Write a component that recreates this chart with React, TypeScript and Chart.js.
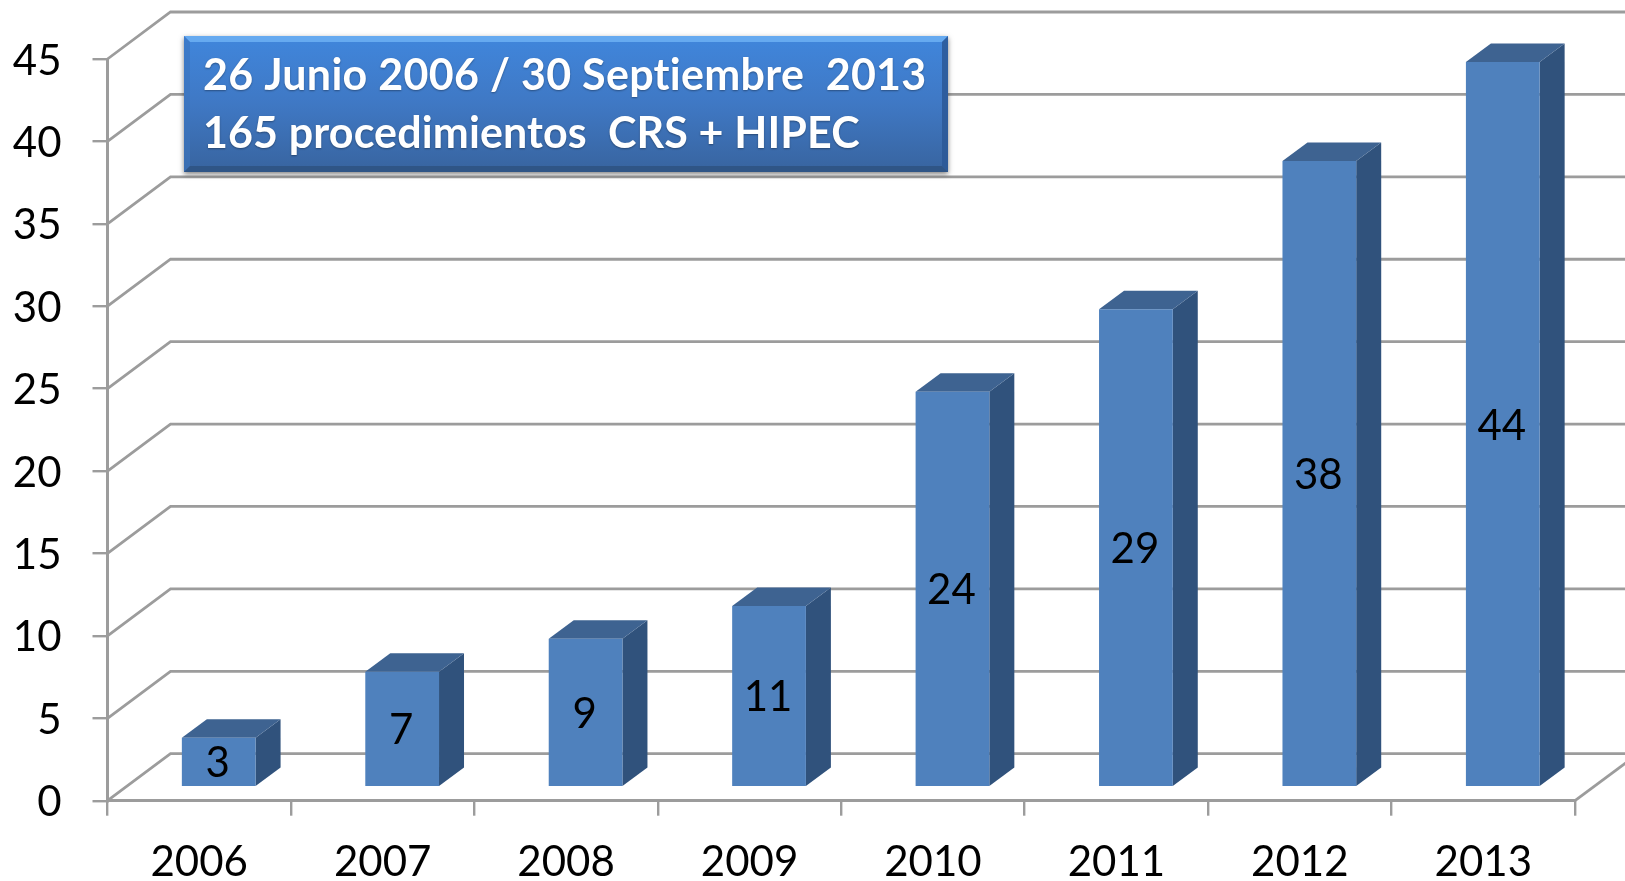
import React, { useEffect, useRef } from "react";
import { Chart, registerables } from "chart.js";

Chart.register(...registerables);

const categories = ["2006", "2007", "2008", "2009", "2010", "2011", "2012", "2013"];
const procedures = [3, 7, 9, 11, 24, 29, 38, 44];
const noteLines = ["26 Junio 2006 / 30 Septiembre  2013", "165 procedimientos  CRS + HIPEC"];

const FONT = "Lato, Carlito, sans-serif";
const GRID = "#9c9c9c";
const FRONT = "#4f81bd";
const TOP = "#3e6391";
const SIDE = "#30527c";
const WALL_DX = 63;
const WALL_DY = 47;
const BAR_DX = 19.5;
const BAR_DY = -13.5;
const DEPTH_X = 25;
const DEPTH_Y = 18.5;

const cube3d = {
  id: "cube3d",
  beforeDatasetsDraw(chart: any) {
    const { ctx, scales } = chart;
    const y = scales.y;
    const x = scales.x;
    ctx.save();
    ctx.strokeStyle = GRID;
    ctx.lineWidth = 2.8;
    y.ticks.forEach((t: any) => {
      const py = y.getPixelForValue(t.value);
      ctx.beginPath();
      ctx.moveTo(x.left, py);
      ctx.lineTo(x.left + WALL_DX, py - WALL_DY);
      ctx.lineTo(1625, py - WALL_DY);
      ctx.stroke();
    });
    const zero = y.getPixelForValue(0);
    ctx.beginPath();
    ctx.moveTo(x.right, zero);
    ctx.lineTo(x.right + WALL_DX, zero - WALL_DY);
    ctx.stroke();
    ctx.restore();

    ctx.save();
    ctx.translate(BAR_DX, BAR_DY);
    chart.getDatasetMeta(0).data.forEach((bar: any) => {
      const l = bar.x - bar.width / 2;
      const r = bar.x + bar.width / 2;
      ctx.fillStyle = SIDE;
      ctx.beginPath();
      ctx.moveTo(r, bar.y);
      ctx.lineTo(r + DEPTH_X, bar.y - DEPTH_Y);
      ctx.lineTo(r + DEPTH_X, bar.base - DEPTH_Y);
      ctx.lineTo(r, bar.base);
      ctx.closePath();
      ctx.fill();
      ctx.fillStyle = TOP;
      ctx.beginPath();
      ctx.moveTo(l, bar.y);
      ctx.lineTo(l + DEPTH_X, bar.y - DEPTH_Y);
      ctx.lineTo(r + DEPTH_X, bar.y - DEPTH_Y);
      ctx.lineTo(r, bar.y);
      ctx.closePath();
      ctx.fill();
    });
  },
  afterDatasetsDraw(chart: any) {
    const { ctx } = chart;
    ctx.fillStyle = "#000";
    ctx.font = `42px ${FONT}`;
    ctx.textAlign = "center";
    ctx.textBaseline = "middle";
    chart.getDatasetMeta(0).data.forEach((bar: any, i: number) => {
      ctx.fillText(String(procedures[i]), bar.x - 1, (bar.y + bar.base) / 2 + 2);
    });
    ctx.restore();
  },
  afterDraw(chart: any) {
    const { ctx } = chart;
    const l = 184, t = 36, r = 948, b = 172, bev = 6;
    ctx.save();
    ctx.shadowColor = "rgba(0,0,0,0.5)";
    ctx.shadowBlur = 5;
    ctx.shadowOffsetY = 2;
    const g = ctx.createLinearGradient(0, t, 0, b);
    g.addColorStop(0, "#4086dc");
    g.addColorStop(0.5, "#3f78c4");
    g.addColorStop(1, "#38649f");
    ctx.fillStyle = g;
    ctx.fillRect(l, t, r - l, b - t);
    ctx.shadowColor = "transparent";
    const poly = (pts: number[][], color: string) => {
      ctx.fillStyle = color;
      ctx.beginPath();
      pts.forEach((p, i) => (i ? ctx.lineTo(p[0], p[1]) : ctx.moveTo(p[0], p[1])));
      ctx.closePath();
      ctx.fill();
    };
    poly([[l, t], [r, t], [r - bev, t + bev], [l + bev, t + bev]], "#66aaf0");
    poly([[l, t], [l + bev, t + bev], [l + bev, b - bev], [l, b]], "rgba(60,116,190,0.6)");
    poly([[r, t], [r, b], [r - bev, b - bev], [r - bev, t + bev]], "rgba(44,88,150,0.85)");
    poly([[l, b], [l + bev, b - bev], [r - bev, b - bev], [r, b]], "#2f5586");
    ctx.fillStyle = "#fff";
    ctx.font = `bold 43px ${FONT}`;
    (ctx as any).letterSpacing = "0.28px";
    ctx.textAlign = "left";
    ctx.textBaseline = "alphabetic";
    ctx.shadowColor = "rgba(0,0,0,0.35)";
    ctx.shadowBlur = 2;
    ctx.shadowOffsetY = 1;
    ctx.fillText(noteLines[0], 203, 89.5);
    (ctx as any).letterSpacing = "0.12px";
    ctx.fillText(noteLines[1], 203, 148);
    ctx.restore();
  },
};

export default function App() {
  const ref = useRef<HTMLCanvasElement>(null);
  useEffect(() => {
    const chart = new Chart(ref.current as HTMLCanvasElement, {
      type: "bar",
      data: {
        labels: categories,
        datasets: [
          {
            data: procedures,
            backgroundColor: FRONT,
            barPercentage: 0.402,
            categoryPercentage: 1,
            clip: false,
          } as any,
        ],
      },
      plugins: [cube3d],
      options: {
        animation: false,
        responsive: false,
        events: [],
        layout: { padding: { top: 59, right: 50, left: 0, bottom: 0 } },
        plugins: { legend: { display: false }, tooltip: { enabled: false }, title: { display: false } },
        scales: {
          x: {
            afterFit: (s: any) => { s.height = 80.3; },
            grid: { drawOnChartArea: false, drawTicks: true, tickLength: 15, color: GRID, lineWidth: 2.4 },
            border: { color: GRID, width: 3 },
            ticks: { color: "#000", font: { family: FONT, size: 42 }, padding: 22, maxRotation: 0 },
          },
          y: {
            min: 0,
            max: 45,
            afterFit: (s: any) => { s.width = 107.5; },
            grid: { drawOnChartArea: false, drawTicks: true, tickLength: 15, color: GRID, lineWidth: 2.4 },
            border: { color: GRID, width: 3 },
            ticks: { stepSize: 5, color: "#000", font: { family: FONT, size: 42 }, padding: 31, labelOffset: 2 },
          },
        },
      } as any,
    });
    return () => chart.destroy();
  }, []);
  return (
    <div style={{ position: "absolute", left: 0, top: 0, width: 1625, height: 881, background: "#fff", overflow: "hidden" }}>
      <canvas ref={ref} width={1625} height={881} style={{ display: "block" }} />
    </div>
  );
}
